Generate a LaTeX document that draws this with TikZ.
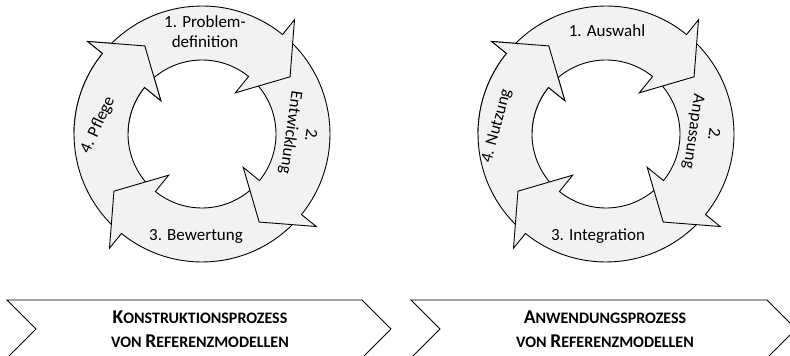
\documentclass[tikz,border=0pt]{standalone}
\usepackage{fontspec}
\setmainfont{Carlito}
\definecolor{cycfill}{HTML}{F2F2F2}
\tikzset{
  cyc/.style={draw=black, fill=cycfill, line width=0.9pt, line join=miter},
  lbl/.style={font=\fontsize{17}{20}\selectfont, align=center, inner sep=0pt},
  chev/.style={draw=black, fill=white, line width=0.9pt},
  chevtxt/.style={align=center, inner sep=0pt, font=\bfseries\fontsize{16}{24}\selectfont}
}
\newcommand\cyclearrow{(138:128) arc[start angle=138, end angle=51, radius=128] -- (51:147) -- (33:105) -- (51:53) -- (51:74) arc[start angle=51, end angle=138, radius=74] -- cycle}
\newcommand\capbig[1]{{\fontsize{19.5}{24}\selectfont #1}}
\begin{document}
\begin{tikzpicture}[x=1pt,y=1pt]
\useasboundingbox (0,0) rectangle (790,356);
\clip (0,0) rectangle (790,356);
\foreach \cx in {202,606} {
  \begin{scope}[shift={(\cx,222)}]
    \foreach \r in {90,180,270,0} { \draw[cyc, rotate=\r] \cyclearrow; }
    \begin{scope}
      \clip (0,0) -- (90:175) arc[start angle=90, end angle=180, radius=175] -- cycle;
      \draw[cyc, rotate=90] \cyclearrow;
    \end{scope}
  \end{scope}
}
% labels, cycle 1
\node[lbl] (a1) at (205,324.5) {1. Problem-\\definition};
\node[lbl, rotate=-98] (a2) at (300,222) {2.\\Entwicklung};
\node[lbl] (a3) at (196,120) {3. Bewertung};
\node[lbl, rotate=65] (a4) at (98,231) {4. Pflege};
% labels, cycle 2
\node[lbl] (b1) at (607,325) {1. Auswahl};
\node[lbl, rotate=-98] (b2) at (703,223) {2.\\Anpassung};
\node[lbl] (b3) at (598,120) {3. Integration};
\node[lbl, rotate=75] (b4) at (497,230) {4. Nutzung};
% chevrons
\draw[chev] (7,56) -- (362,56) -- (391,27) -- (362,-2) -- (7,-2) -- (36,27) -- cycle;
\draw[chev] (411,56) -- (767,56) -- (796,27) -- (767,-2) -- (411,-2) -- (440,27) -- cycle;
\node[chevtxt] (k) at (200,27) {\capbig{K}ONSTRUKTIONSPROZESS\\VON \capbig{R}EFERENZMODELLEN};
\node[chevtxt] (w) at (605,27) {\capbig{A}NWENDUNGSPROZESS\\VON \capbig{R}EFERENZMODELLEN};
\end{tikzpicture}
\end{document}
